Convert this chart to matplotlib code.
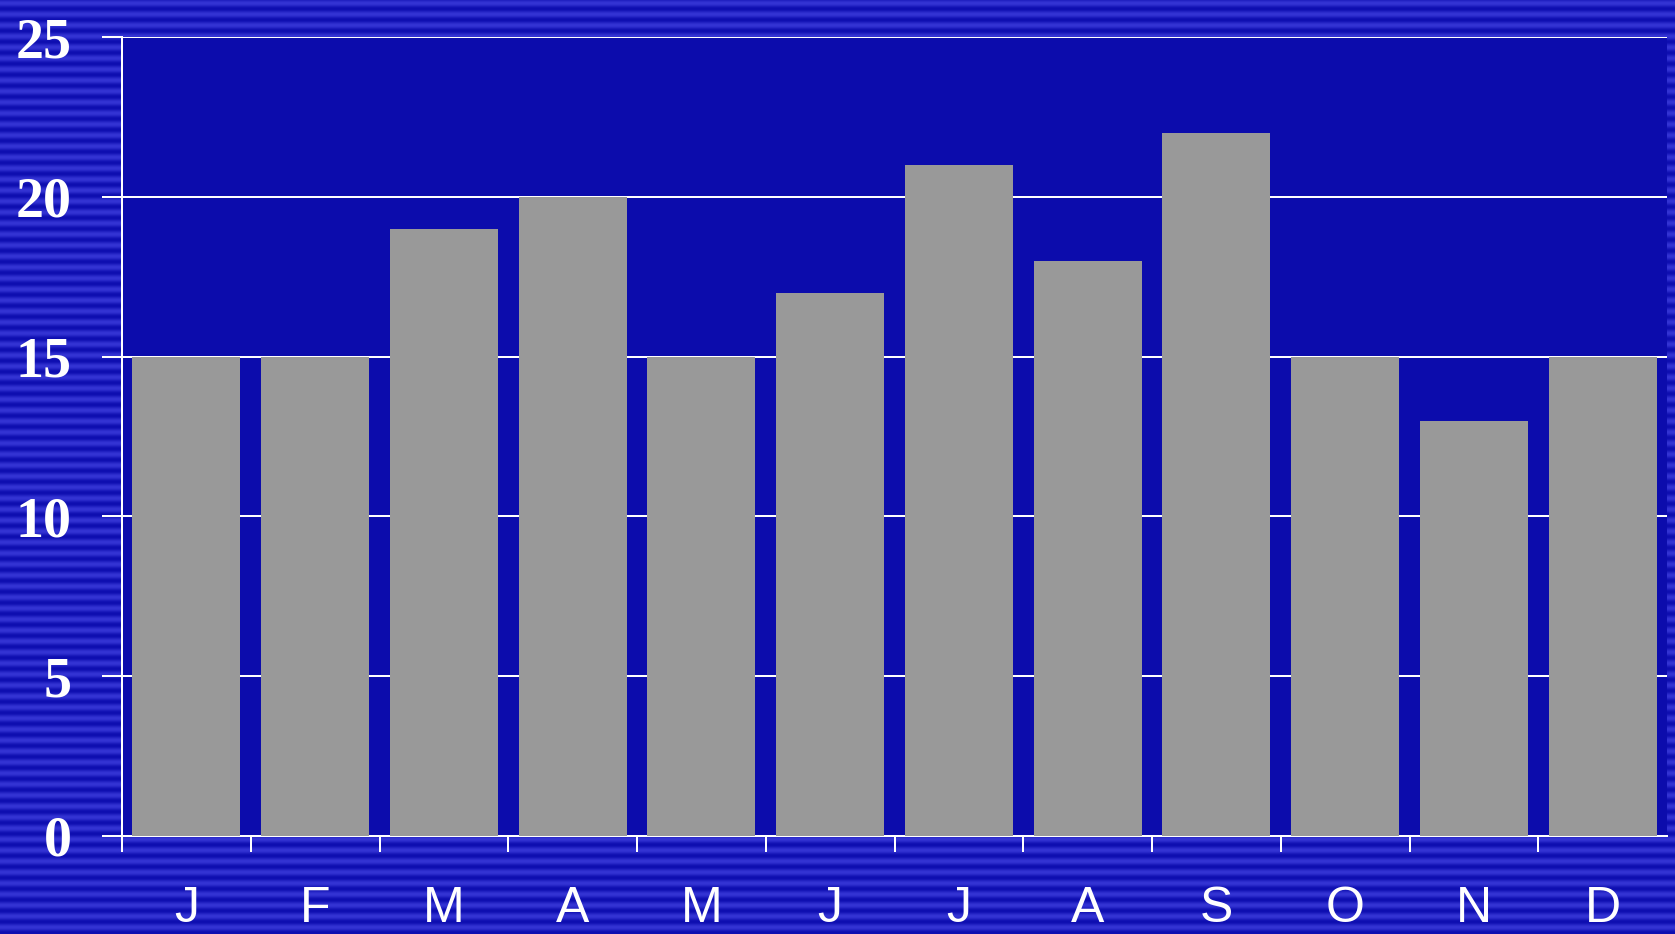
import numpy as np
import matplotlib
matplotlib.use('Agg')
import matplotlib.pyplot as plt


months = ['J', 'F', 'M', 'A', 'M', 'J', 'J', 'A', 'S', 'O', 'N', 'D']
values = [15, 15, 19, 20, 15, 17, 21, 18, 22, 15, 13, 15]
y_ticks = [0, 5, 10, 15, 20, 25]

W, H = 1675, 934
PX = 72 / 100  # pixels -> points at dpi 100

fig = plt.figure(figsize=(W / 100, H / 100), dpi=100)
fig.patch.set_facecolor('#1414b8')

# striped slide background
bg = fig.add_axes([0, 0, 1, 1], zorder=0)
rows = np.arange(H)
stripe = 0.5 + 0.5 * np.sin(rows * 2 * np.pi / 11)
img = np.zeros((H, 1, 3))
img[:, 0, 0] = (14 + 38 * stripe) / 255
img[:, 0, 1] = (14 + 38 * stripe) / 255
img[:, 0, 2] = (176 + 36 * stripe) / 255
bg.imshow(img, aspect='auto', extent=[0, 1, 0, 1], interpolation='bilinear')
bg.axis('off')

left, right = 122 / W, 1667 / W
bottom, top = 1 - 836 / H, 1 - 37 / H
ax = fig.add_axes([left, bottom, right - left, top - bottom], zorder=1)
ax.set_facecolor('#0c0cac')

x = np.arange(len(months))
ax.bar(x, values, width=0.84, color='#999999', zorder=3)

ax.set_xlim(-0.5, len(months) - 0.5)
ax.set_ylim(0, 25)
ax.set_yticks(y_ticks)
ax.set_yticklabels([str(v) for v in y_ticks], family='Liberation Serif',
                   fontweight='bold', fontsize=56 * PX, color='white')
ax.yaxis.grid(True, color='white', linewidth=2 * PX, zorder=1)
ax.set_axisbelow(True)

ax.set_xticks(x)
ax.set_xticklabels(months, family='Liberation Sans', fontsize=50 * PX, color='white')
ax.set_xticks(np.arange(-0.5, len(months) - 0.5, 1), minor=True)
ax.tick_params(axis='x', which='major', length=0, pad=50 * PX)
ax.tick_params(axis='x', which='minor', length=16 * PX, width=2 * PX,
               color='white', direction='out')
ax.tick_params(axis='y', length=20 * PX, width=2 * PX, color='white', pad=30 * PX)

for side in ['top', 'right']:
    ax.spines[side].set_visible(False)
for side in ['left', 'bottom']:
    ax.spines[side].set_color('white')
    ax.spines[side].set_linewidth(2 * PX)

fig.savefig('out.png', dpi=100, facecolor=fig.get_facecolor())
